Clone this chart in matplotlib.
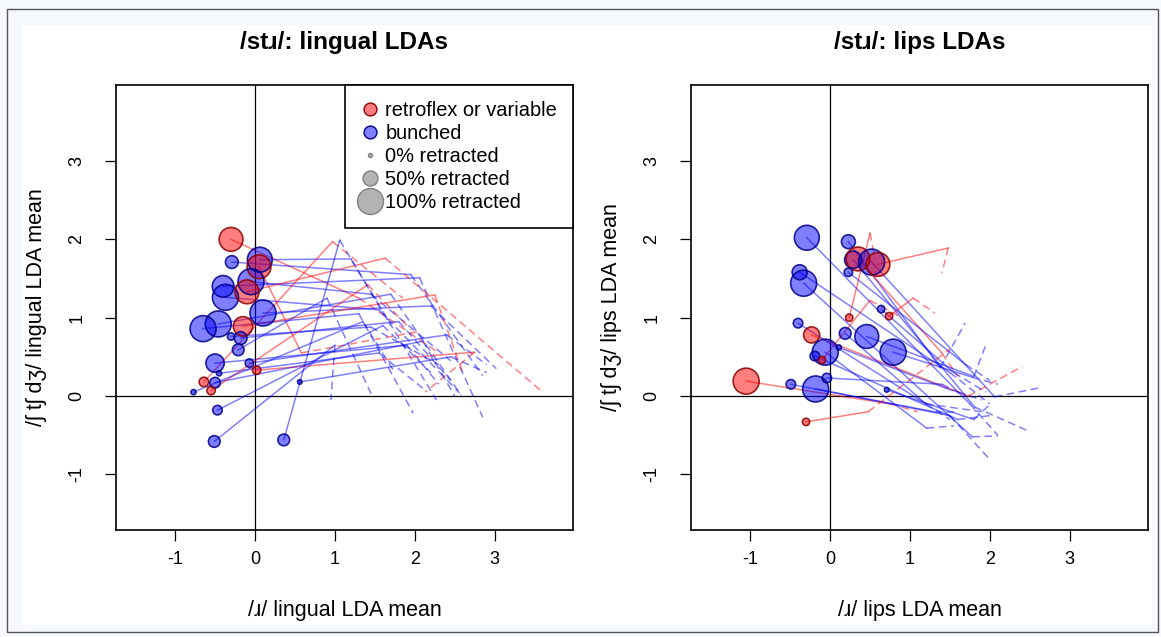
import matplotlib
matplotlib.use("Agg")
import matplotlib.pyplot as plt
from matplotlib.lines import Line2D
from matplotlib.patches import Rectangle

plt.rcParams['font.family'] = ['Liberation Sans', 'DejaVu Sans']
plt.rcParams['axes.unicode_minus'] = False

# --- lingual panel: circle (x0,y0) -> solid to (x1,y1) -> dashed to (x2,y2)
lin_group = ['r', 'b', 'b', 'r', 'b', 'b', 'b', 'r', 'b', 'b', 'b', 'r', 'b', 'b',
             'b', 'b', 'b', 'r', 'b', 'r', 'b', 'r', 'b', 'b', 'b', 'b', 'b']
lin_pct = [90, 40, 95, 90, 80, 100, 100, 90, 100, 100, 100, 70, 15, 40,
           35, 65, 20, 20, 5, 25, 30, 20, 5, 25, 35, 35, 2]
lin_x0 = [-0.30, -0.29, 0.06, 0.05, -0.40, -0.37, -0.05, -0.10, 0.10, -0.65, -0.46, -0.15, -0.30, -0.18,
          -0.21, -0.50, -0.07, 0.02, -0.45, -0.64, -0.50, -0.55, -0.77, -0.47, -0.51, 0.36, 0.56]
lin_y0 = [2.00, 1.71, 1.74, 1.65, 1.40, 1.26, 1.46, 1.33, 1.06, 0.86, 0.92, 0.89, 0.76, 0.74,
          0.59, 0.42, 0.42, 0.33, 0.29, 0.18, 0.17, 0.07, 0.05, -0.18, -0.58, -0.56, 0.18]
lin_x1 = [1.30, 1.95, 1.20, 0.58, 2.06, 1.55, 1.45, 1.63, 2.20, 1.30, 1.70, 2.25, 1.45, 1.80,
          0.90, 1.90, 2.40, 2.75, 1.55, 0.97, 2.10, 1.41, 1.35, 1.60, 1.00, 1.06, 2.45]
lin_y1 = [1.25, 1.55, 1.75, 0.55, 1.51, 1.10, 1.30, 1.76, 1.15, 1.05, 1.30, 1.29, 0.88, 0.95,
          1.25, 0.65, 0.78, 0.56, 0.55, 1.97, 0.70, 1.42, 0.95, 0.90, 0.65, 1.99, 0.50]
lin_x2 = [2.30, 2.85, 2.27, 2.03, 2.85, 2.56, 2.45, 3.60, 3.02, 1.98, 2.58, 2.60, 2.30, 2.45,
          1.48, 2.30, 2.90, 2.13, 2.10, 1.85, 2.50, 1.95, 1.75, 2.20, 0.95, 1.70, 2.90]
lin_y2 = [0.55, 0.26, -0.05, 0.82, -0.27, 0.04, 0.45, 0.05, 0.35, -0.22, 0.01, 0.30, 0.40, 0.20,
          -0.03, 0.15, 0.40, 0.05, 0.10, 1.25, 0.00, 0.85, 0.30, 0.30, -0.05, 0.90, 0.30]

# --- lips panel
lip_group = ['b', 'b', 'b', 'b', 'b', 'r', 'b', 'r', 'b', 'b', 'r', 'r', 'b', 'r',
             'b', 'b', 'b', 'b', 'b', 'b', 'r', 'r', 'b', 'b', 'b', 'r', 'b']
lip_pct = [95, 50, 100, 45, 60, 90, 100, 90, 20, 25, 55, 15, 15, 15,
           35, 90, 100, 100, 5, 25, 15, 100, 25, 100, 25, 15, 3]
lip_x0 = [-0.29, -0.38, -0.33, 0.23, 0.29, 0.35, 0.52, 0.60, 0.23, -0.40, -0.23, 0.24, 0.64, 0.74,
          0.19, 0.46, 0.79, -0.06, 0.11, -0.19, -0.10, -1.05, -0.49, -0.18, -0.04, -0.30, 0.71]
lip_y0 = [2.02, 1.58, 1.44, 1.97, 1.74, 1.75, 1.71, 1.68, 1.58, 0.93, 0.78, 1.00, 1.11, 1.02,
          0.80, 0.76, 0.56, 0.56, 0.62, 0.51, 0.46, 0.19, 0.15, 0.09, 0.23, -0.33, 0.08]
lip_x1 = [1.75, 1.50, 1.78, 1.38, 1.81, 1.40, 2.06, 1.48, 1.70, 1.20, 1.73, 0.50, 1.55, 1.04,
          1.20, 1.80, 1.78, 1.21, 1.45, 1.60, 0.50, 0.75, 1.30, 1.50, 1.40, 0.48, 1.80]
lip_y1 = [-0.10, 0.30, -0.52, 0.36, -0.14, 0.55, -0.01, 1.89, 0.40, -0.10, 0.00, 2.08, 0.30, 1.25,
          -0.10, 0.25, 0.24, -0.41, 0.10, -0.30, 1.22, -0.10, -0.20, -0.25, 0.15, -0.20, -0.30]
lip_x2 = [2.10, 2.00, 2.10, 1.69, 2.49, 1.60, 2.65, 1.40, 2.00, 1.90, 2.41, 0.56, 1.95, 1.31,
          1.50, 1.95, 2.10, 1.55, 1.90, 2.00, 0.90, 1.10, 1.60, 2.01, 1.70, 1.50, 2.02]
lip_y2 = [-0.50, -0.10, -0.51, 0.93, -0.45, 0.25, 0.11, 1.57, 0.20, -0.20, 0.38, 1.76, 0.05, 1.06,
          -0.30, 0.65, 0.15, -0.38, -0.05, -0.25, 1.00, -0.20, -0.20, -0.82, 0.00, 0.60, -0.09]

ticks = [-1, 0, 1, 2, 3]
line_col = {'r': '#FF0000', 'b': '#0000FF'}
face_col = {'r': '#FF0000', 'b': '#0000FF'}
edge_col = {'r': '#8B0000', 'b': '#00008B'}


def marker_area(pct):
    # radius in pixels grows with % retracted, scatter wants points^2
    r = 2 + 11 * pct / 100.0
    return (2 * r * 0.72) ** 2


def draw_panel(ax, grp, pct, x0, y0, x1, y1, x2, y2, title, xlab, ylab):
    for i in range(len(grp)):
        c = line_col[grp[i]]
        ax.plot([x0[i], x1[i]], [y0[i], y1[i]], color=c, alpha=0.5, lw=1.1, zorder=2)
        ax.plot([x1[i], x2[i]], [y1[i], y2[i]], color=c, alpha=0.5, lw=1.1,
                dashes=(5, 3), zorder=2)
    for i in range(len(grp)):
        ax.scatter(x0[i], y0[i], s=marker_area(pct[i]), color=face_col[grp[i]], alpha=0.5,
                   edgecolors='none', zorder=3)
        ax.scatter(x0[i], y0[i], s=marker_area(pct[i]), facecolors='none',
                   edgecolors=edge_col[grp[i]], linewidths=1.2, alpha=0.85, zorder=4)
    ax.axhline(0, color='black', lw=0.9, zorder=1)
    ax.axvline(0, color='black', lw=0.9, zorder=1)
    ax.set_xlim(-1.74, 3.98)
    ax.set_ylim(-1.71, 3.97)
    ax.set_xticks(ticks)
    ax.set_yticks(ticks)
    ax.tick_params(axis='both', direction='out', length=8, width=0.9, labelsize=13)
    ax.tick_params(axis='x', pad=7)
    ax.tick_params(axis='y', pad=14)
    for lab in ax.get_yticklabels():
        lab.set_rotation(90)
        lab.set_va('center')
    for sp in ax.spines.values():
        sp.set_linewidth(1.2)
    ax.set_title(title, fontsize=17.5, fontweight='bold', pad=26)
    ax.set_xlabel(xlab, fontsize=15.5)
    ax.set_ylabel(ylab, fontsize=15.5)
    ax.xaxis.set_label_coords(0.5, -0.158)
    ax.yaxis.set_label_coords(-0.152, 0.5)


fig = plt.figure(figsize=(11.61, 6.37), dpi=100)
fig.patch.set_facecolor('#f6f9fc')
fig.patches.append(Rectangle((22 / 1161, 1 - 626 / 637), 1130 / 1161, 601 / 637,
                             transform=fig.transFigure, facecolor='white',
                             edgecolor='none', zorder=-2))
fig.patches.append(Rectangle((7 / 1161, 1 - 632 / 637), 1151 / 1161, 623 / 637,
                             transform=fig.transFigure, facecolor='none',
                             edgecolor='#555555', lw=1.0, zorder=-1))

ax1 = fig.add_axes([116 / 1161, 1 - 530 / 637, 457 / 1161, 445 / 637])
ax2 = fig.add_axes([691 / 1161, 1 - 530 / 637, 457 / 1161, 445 / 637])

draw_panel(ax1, lin_group, lin_pct, lin_x0, lin_y0, lin_x1, lin_y1, lin_x2, lin_y2,
           '/stɹ/: lingual LDAs', '/ɹ/ lingual LDA mean', '/ʃ tʃ dʒ/ lingual LDA mean')
draw_panel(ax2, lip_group, lip_pct, lip_x0, lip_y0, lip_x1, lip_y1, lip_x2, lip_y2,
           '/stɹ/: lips LDAs', '/ɹ/ lips LDA mean', '/ʃ tʃ dʒ/ lips LDA mean')

# legend
leg_labels = ['retroflex or variable', 'bunched', '0% retracted', '50% retracted', '100% retracted']
leg_pct = [40, 40, 0, 50, 100]
leg_face = ['#FF7F7F', '#7F7FFF', '#B3B3B3', '#B3B3B3', '#B3B3B3']
leg_edge = ['#8B0000', '#00008B', '#808080', '#808080', '#808080']
handles = []
for lab, p, fc, ec in zip(leg_labels, leg_pct, leg_face, leg_edge):
    d = 2 * (2 + 11 * p / 100.0) * 0.72
    handles.append(Line2D([], [], ls='', marker='o', markersize=d, markerfacecolor=fc,
                          markeredgecolor=ec, markeredgewidth=1.0, label=lab))
leg = ax1.legend(handles=handles, loc='upper right', bbox_to_anchor=(1.0, 1.0),
                 borderaxespad=0, fontsize=14.4, frameon=True, fancybox=False,
                 edgecolor='black', framealpha=1, borderpad=0.8, labelspacing=0.2,
                 handlelength=0.9, handleheight=0.7, handletextpad=0.3)
leg.get_frame().set_linewidth(1.2)
leg.set_zorder(10)

fig.savefig('out.png', dpi=100, facecolor=fig.get_facecolor())
